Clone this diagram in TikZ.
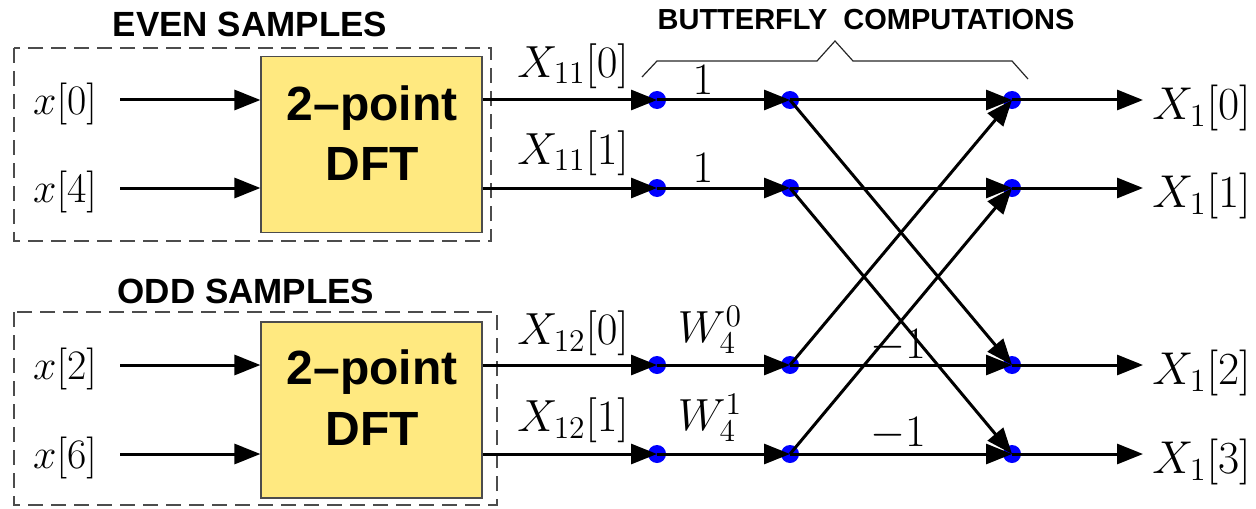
\RequirePackage{fix-cm}
\documentclass[tikz,border=0pt]{standalone}
\usepackage{fontspec}
\newfontfamily\hv{Liberation Sans}
\usetikzlibrary{arrows.meta,calc}
\definecolor{dftyellow}{RGB}{255,233,128}
\definecolor{dotblue}{RGB}{0,0,255}
\begin{document}
\begin{tikzpicture}[x=0.5pt,y=-0.5pt,
  arr/.style={line width=1.5pt,-{Triangle[length=13pt,width=10pt]}},
  dot/.style={circle,fill=dotblue,inner sep=0pt,minimum size=9pt},
  dftbox/.style={draw=black!70,line width=0.6pt,fill=dftyellow,minimum width=110.5pt,minimum height=88pt,inner sep=0pt},
  dfttext/.style={font=\hv\bfseries\fontsize{24}{30}\selectfont,inner sep=0pt,anchor=base},
  group/.style={draw=black!70,dash pattern=on 7.5pt off 4pt,line width=0.9pt},
  title/.style={font=\hv\bfseries\fontsize{17.5}{20}\selectfont,inner sep=0pt,anchor=base},
  btitle/.style={font=\hv\bfseries\fontsize{14.5}{17}\selectfont,inner sep=0pt,anchor=base},
  inlab/.style={font=\fontsize{21}{25}\selectfont,inner sep=0pt},
  lab/.style={font=\fontsize{22.5}{27}\selectfont,inner sep=0pt},
  outlab/.style={font=\fontsize{23}{27}\selectfont,inner sep=0pt,anchor=west},
  brace/.style={line width=0.6pt,draw=black!85},
]
\useasboundingbox (0,0) rectangle (1256,508);

% titles
\node[title] (even) at (250,37) {EVEN SAMPLES};
\node[title] (odd) at (246,303) {ODD SAMPLES};
\node[btitle] (bfly) at (866,30) {BUTTERFLY\ \ COMPUTATIONS};

% dashed groups
\draw[group] (14,48) rectangle (491,241);
\draw[group] (14,312) rectangle (497,505);

% DFT boxes
\node[dftbox] (dft1) at (371.5,144.5) {};
\node[dftbox] (dft2) at (371.5,410) {};
\node[dfttext] (dft1a) at (372,120) {2–point};
\node[dfttext] (dft1b) at (372,180) {DFT};
\node[dfttext] (dft2a) at (372,384) {2–point};
\node[dfttext] (dft2b) at (372,445) {DFT};

% input labels
\node[inlab] (x0) at (65,104) {$x[0]$};
\node[inlab] (x4) at (65,192) {$x[4]$};
\node[inlab] (x2) at (65,369) {$x[2]$};
\node[inlab] (x6) at (65,458) {$x[6]$};
\coordinate (i0) at (120,100);
\coordinate (i4) at (120,188);
\coordinate (i2) at (120,365);
\coordinate (i6) at (120,454);
\draw[arr] (i0) -- (i0 -| dft1.west);
\draw[arr] (i4) -- (i4 -| dft1.west);
\draw[arr] (i2) -- (i2 -| dft2.west);
\draw[arr] (i6) -- (i6 -| dft2.west);

% butterfly dots
\foreach \n/\y in {0/100,1/188,2/365,3/454}{
  \node[dot] (a\n) at (657,\y) {};
  \node[dot] (b\n) at (790,\y) {};
  \node[dot] (c\n) at (1012,\y) {};
  \coordinate (o\n) at (1143,\y);
}

% DFT outputs
\draw[arr] (dft1.east |- a0) -- (a0.center);
\draw[arr] (dft1.east |- a1) -- (a1.center);
\draw[arr] (dft2.east |- a2) -- (a2.center);
\draw[arr] (dft2.east |- a3) -- (a3.center);

% twiddle stage
\foreach \n in {0,1,2,3}{
  \draw[arr] (a\n.center) -- (b\n.center);
  \draw[arr] (b\n.center) -- (c\n.center);
  \draw[arr] (c\n.center) -- (o\n);
}
% crossings
\draw[arr] (b0.center) -- (c2.center);
\draw[arr] (b1.center) -- (c3.center);
\draw[arr] (b2.center) -- (c0.center);
\draw[arr] (b3.center) -- (c1.center);

% intermediate labels
\node[lab] (l0) at (573,66) {$X_{11}[0]$};
\node[lab] (l1) at (573,153) {$X_{11}[1]$};
\node[lab] (l2) at (573,333) {$X_{12}[0]$};
\node[lab] (l3) at (573,420) {$X_{12}[1]$};
\node[lab] (w0) at (703,80) {$1$};
\node[lab] (w1) at (703,168) {$1$};
\node[lab] (w2) at (710,330) {$W_4^0$};
\node[lab] (w3) at (710,418) {$W_4^1$};
\node[lab] (m2) at (898,346) {$-1$};
\node[lab] (m3) at (898,434) {$-1$};

% outputs
\node[outlab] (y0) at (1152,108) {$X_1[0]$};
\node[outlab] (y1) at (1152,196) {$X_1[1]$};
\node[outlab] (y2) at (1152,373) {$X_1[2]$};
\node[outlab] (y3) at (1152,462) {$X_1[3]$};

% brace
\draw[brace] (642,77) -- (657,61) -- (817,61) -- (835,41) -- (853,61) -- (1012,61) -- (1028,79);
\end{tikzpicture}
\end{document}
